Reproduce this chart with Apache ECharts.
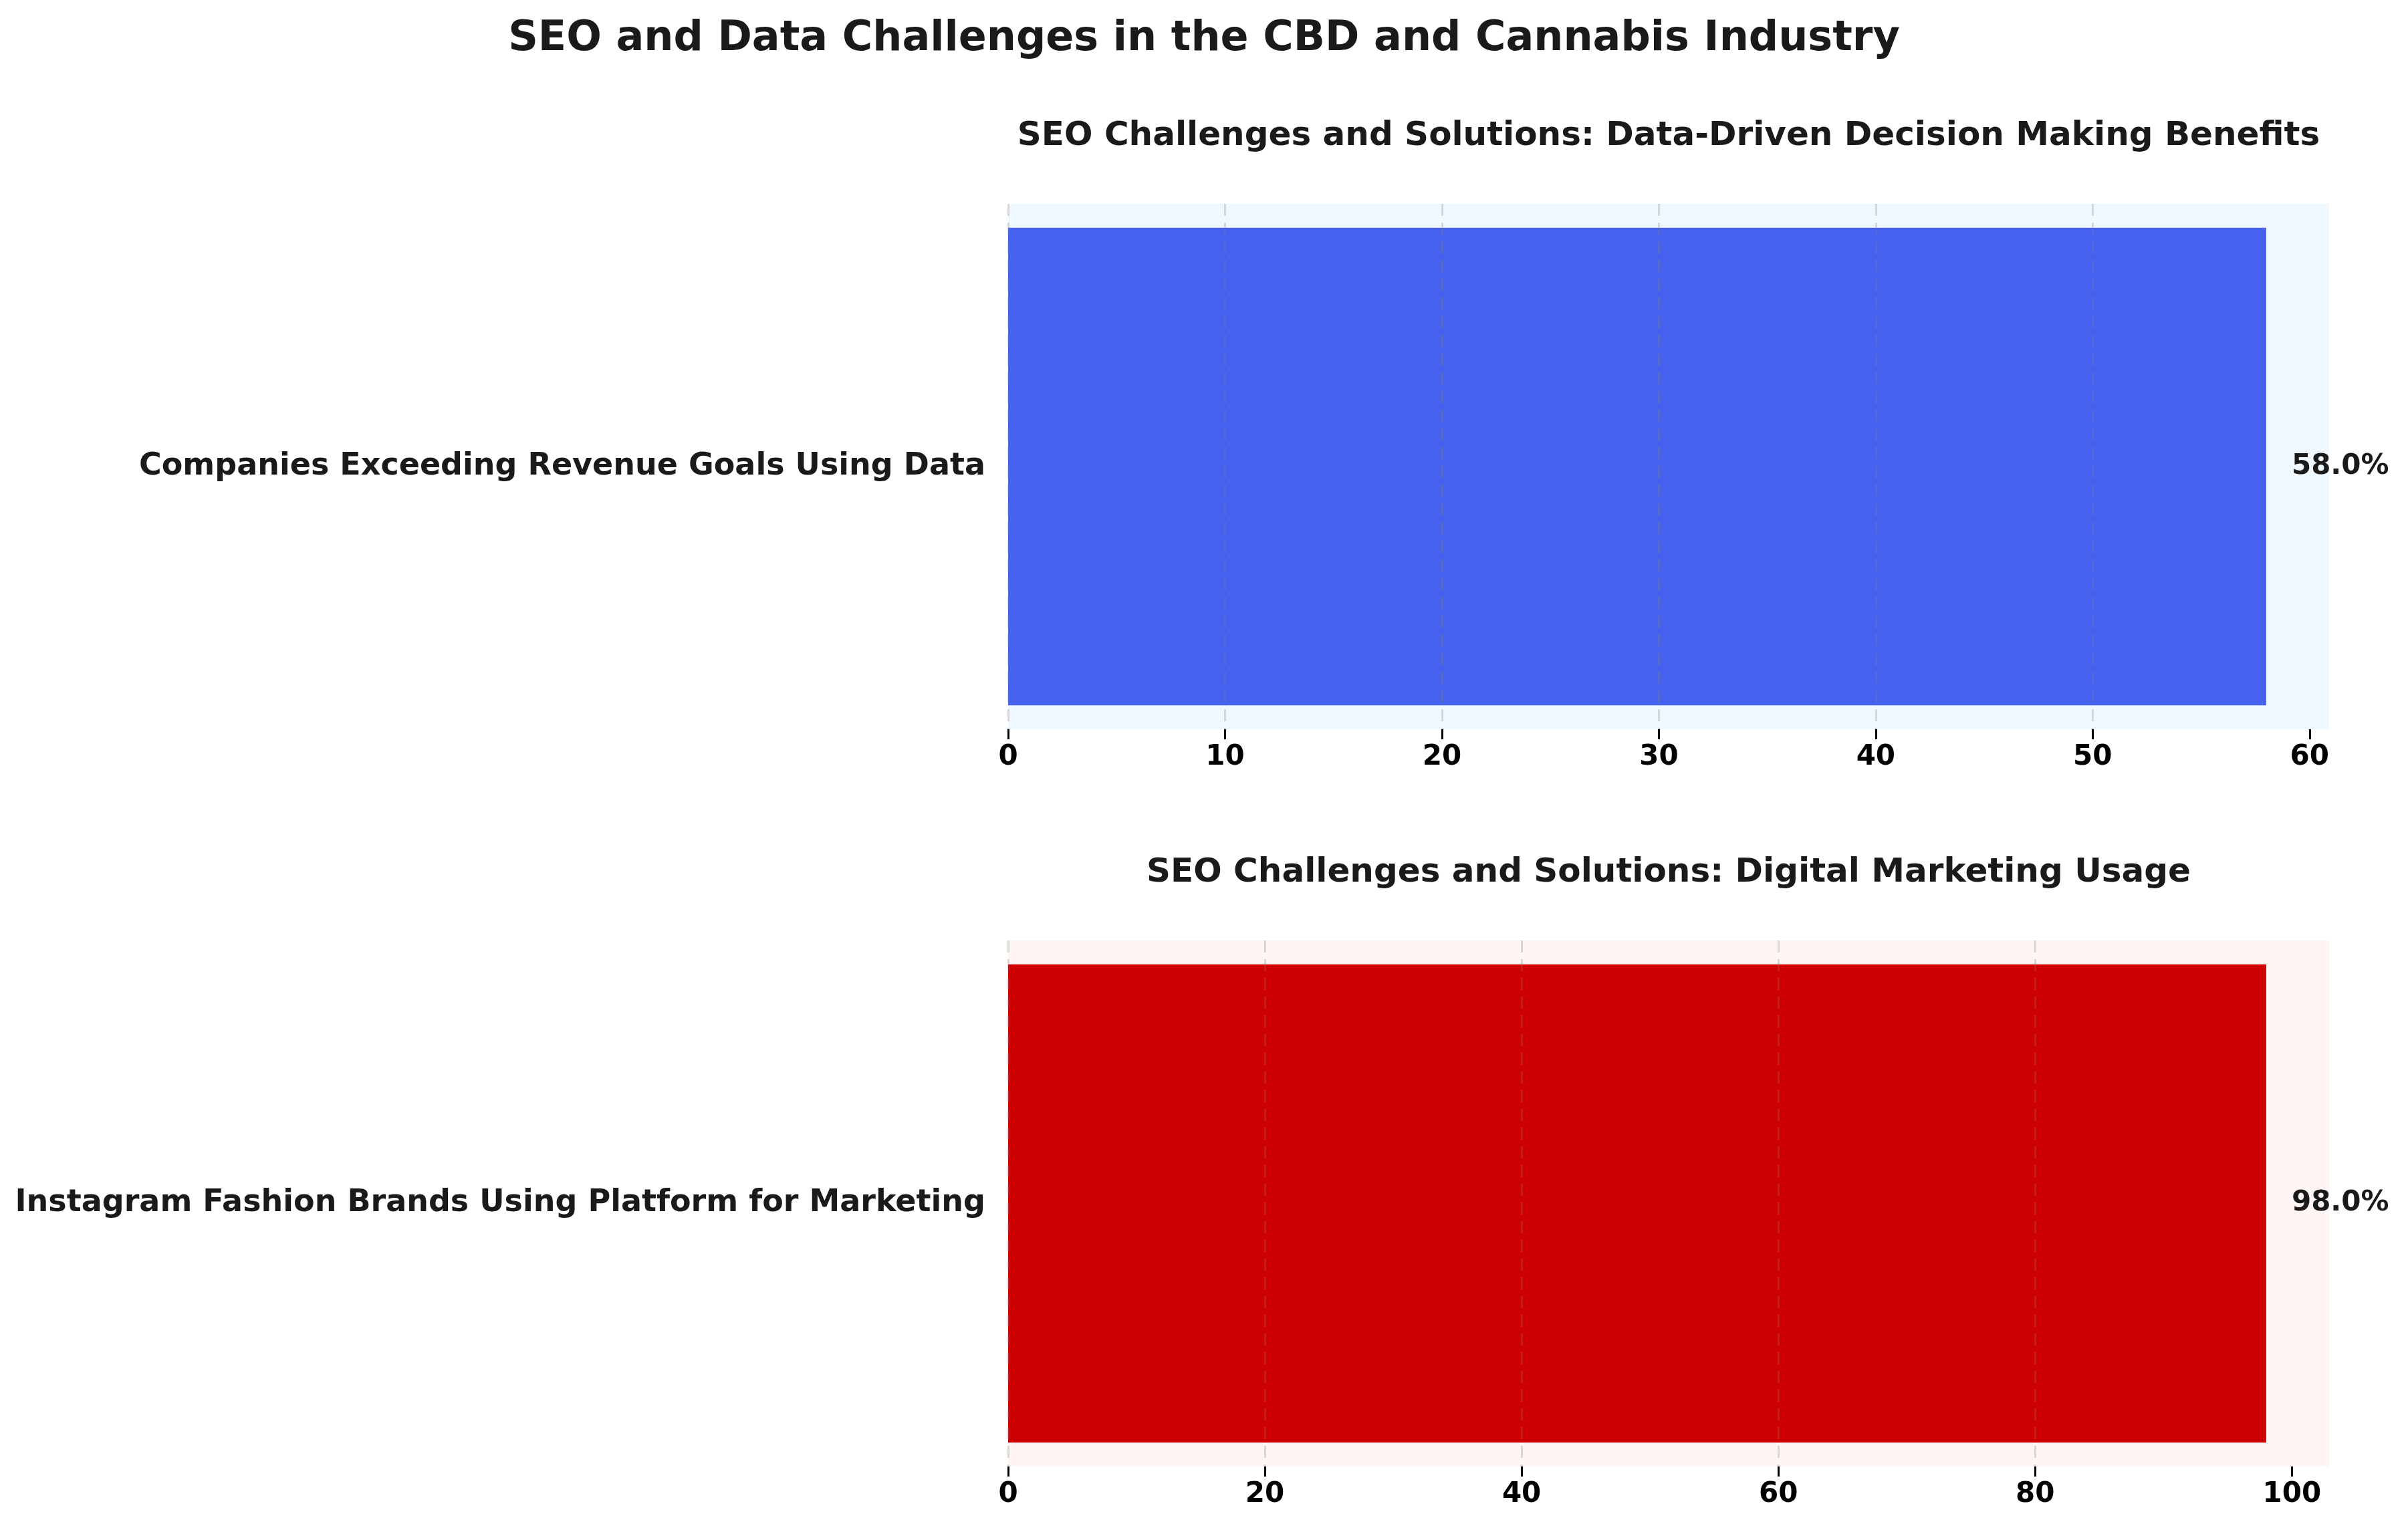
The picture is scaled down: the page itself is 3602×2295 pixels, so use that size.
<!DOCTYPE html>
<html>
<head>
<meta charset="utf-8">
<title>SEO and Data Challenges</title>
<script src="https://cdn.jsdelivr.net/npm/echarts@6/dist/echarts.min.js"></script>
<style>
  html, body { margin: 0; padding: 0; background: #fff; }
  #chart { width: 3602px; height: 2295px; }
</style>
</head>
<body>
<div id="chart"></div>
<script>
// data
const mainTitle = 'SEO and Data Challenges in the CBD and Cannabis Industry'
const panelTitles = [
  'SEO Challenges and Solutions: Data-Driven Decision Making Benefits',
  'SEO Challenges and Solutions: Digital Marketing Usage'
]
const topCategories = ['Companies Exceeding Revenue Goals Using Data']
const topValues = [58.0]
const bottomCategories = ['Instagram Fashion Brands Using Platform for Marketing']
const bottomValues = [98.0]
const topTicks = [0, 10, 20, 30, 40, 50, 60]
const bottomTicks = [0, 20, 40, 60, 80, 100]

const FONT = '"DejaVu Sans", "Liberation Sans", sans-serif'

// one panel = grid + x axis + y axis + bar series
function xAxisFor (idx, ticks, values, step) {
  return {
    gridIndex: idx,
    type: 'value',
    min: 0,
    max: Math.max(...values) * 1.05, // same headroom as the source plot
    interval: step,
    z: 5, // grid lines sit over the bars
    axisLine: { show: false },
    axisTick: { show: true, length: 15, customValues: ticks, lineStyle: { color: '#000', width: 3 } },
    axisLabel: { customValues: ticks, fontSize: 42, fontWeight: 'bold', color: '#000', margin: 21, fontFamily: FONT },
    splitLine: {
      show: true,
      showMaxLine: false,
      lineStyle: { color: 'rgba(128,128,128,0.28)', width: 3, type: [18, 10] }
    }
  }
}

function yAxisFor (idx, cats) {
  return {
    gridIndex: idx,
    type: 'category',
    data: cats,
    axisLine: { show: false },
    axisTick: { show: false },
    splitLine: { show: false },
    axisLabel: { fontSize: 46, fontWeight: 'bold', color: '#1a1a1a', margin: 34, fontFamily: FONT }
  }
}

function seriesFor (idx, values, color) {
  return {
    type: 'bar',
    xAxisIndex: idx,
    yAxisIndex: idx,
    data: values,
    barWidth: '90.9%',
    itemStyle: { color: color },
    label: {
      show: true,
      position: 'right',
      distance: 38,
      formatter: p => p.value.toFixed(1) + '%',
      fontSize: 42,
      fontWeight: 'bold',
      color: '#1a1a1a',
      fontFamily: FONT
    }
  }
}

const panelTitleY = [204, 1306]

const option = {
  backgroundColor: '#fff',
  animation: false,
  title: {
    text: mainTitle,
    left: 'center',
    top: 23,
    textStyle: { fontSize: 62, fontWeight: 'bold', color: '#1a1a1a', fontFamily: FONT }
  },
  graphic: panelTitles.map((t, i) => ({
    type: 'text',
    x: 2496,
    y: panelTitleY[i],
    style: {
      text: t,
      font: 'bold 50px ' + FONT,
      fill: '#1a1a1a',
      align: 'center',
      verticalAlign: 'middle',
      textAlign: 'center',
      textVerticalAlign: 'middle'
    }
  })),
  grid: [
    { left: 1508, right: 118, top: 305, height: 786, show: true, backgroundColor: '#F0F8FF', borderWidth: 0, borderColor: 'transparent' },
    { left: 1508, right: 118, top: 1407, height: 787, show: true, backgroundColor: '#FFF5F5', borderWidth: 0, borderColor: 'transparent' }
  ],
  xAxis: [
    xAxisFor(0, topTicks, topValues, 10),
    xAxisFor(1, bottomTicks, bottomValues, 20)
  ],
  yAxis: [
    yAxisFor(0, topCategories),
    yAxisFor(1, bottomCategories)
  ],
  series: [
    seriesFor(0, topValues, '#4561EE'),
    seriesFor(1, bottomValues, '#CC0000')
  ]
}

const myChart = echarts.init(document.getElementById('chart'), null, { renderer: 'canvas' })
myChart.setOption(option)
</script>
</body>
</html>
